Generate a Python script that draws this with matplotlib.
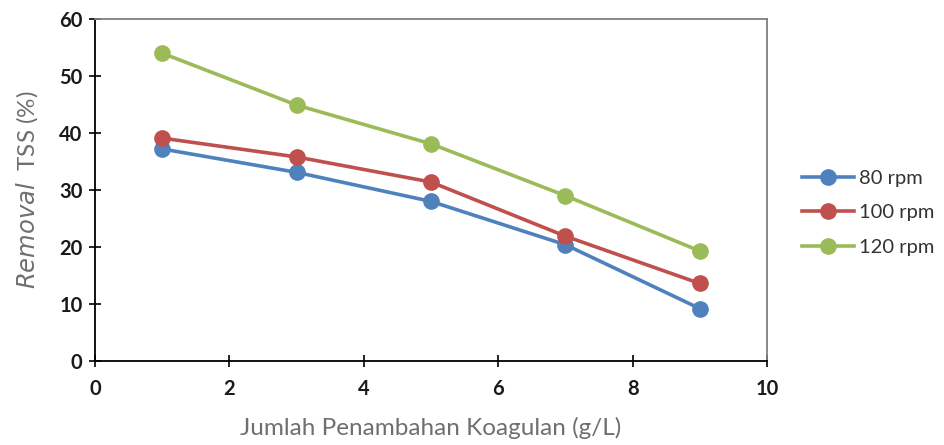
import matplotlib.pyplot as plt

# data
dose = [1, 3, 5, 7, 9]
rpm80 = [37.2, 33.1, 28.0, 20.4, 9.2]
rpm100 = [39.1, 35.8, 31.4, 21.9, 13.6]
rpm120 = [54.0, 44.9, 38.1, 29.0, 19.3]
labels = ['80 rpm', '100 rpm', '120 rpm']
colors = ['#4F81BD', '#C0504D', '#9BBB59']

plt.rcParams['font.family'] = ['Lato', 'DejaVu Sans']

fig = plt.figure(figsize=(9.44, 4.45), dpi=100)
ax = fig.add_axes([95/944, 1-361/445, 672/944, 342/445])

for ys, lab, col in zip([rpm80, rpm100, rpm120], labels, colors):
    ax.plot(dose, ys, color=col, lw=2.6, marker='o', markersize=11, label=lab)

ax.set_xlim(0, 10)
ax.set_ylim(0, 60)
ax.set_xticks(range(0, 11, 2))
ax.set_yticks(range(0, 61, 10))
ax.tick_params(direction='inout', length=8, width=1.2, labelsize=14.5,
               labelcolor='#1a1a1a', pad=5)
ax.tick_params(axis='x', pad=9)
for lbl in ax.get_xticklabels() + ax.get_yticklabels():
    lbl.set_fontweight('bold')
ax.spines['left'].set_color('black')
ax.spines['bottom'].set_color('black')
ax.spines['left'].set_linewidth(1.3)
ax.spines['bottom'].set_linewidth(1.3)
for s in ['top', 'right']:
    ax.spines[s].set_color('#7f7f7f')
    ax.spines[s].set_linewidth(1.3)

ax.set_xlabel('Jumlah Penambahan Koagulan (g/L)', fontsize=17.5, color='#6f6f6f', labelpad=13)
ax.set_ylabel(r'$\it{Removal}$  TSS (%)', fontsize=17.5, color='#6f6f6f', labelpad=14)

leg = ax.legend(loc='center left', bbox_to_anchor=(1.052, 0.433), frameon=False,
                fontsize=14.5, handlelength=2.6, labelspacing=0.85, handletextpad=0.25,
                borderaxespad=0, borderpad=0)
for t in leg.get_texts():
    t.set_color('#333333')

fig.savefig('out.png', dpi=100)
